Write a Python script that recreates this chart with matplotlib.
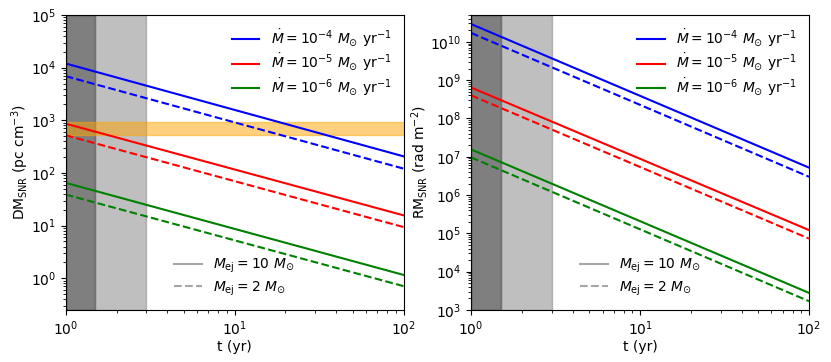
import matplotlib
matplotlib.use('Agg')
import matplotlib.pyplot as plt
from matplotlib.lines import Line2D

# tempo (yr): as curvas sao retas em log-log, basta o inicio e o fim
t = [1, 100]

mdot_labels = [r'$\dot{M} = 10^{-4}\ M_{\odot}\ {\rm yr}^{-1}$',
               r'$\dot{M} = 10^{-5}\ M_{\odot}\ {\rm yr}^{-1}$',
               r'$\dot{M} = 10^{-6}\ M_{\odot}\ {\rm yr}^{-1}$']
cores = ['blue', 'red', 'green']
mej_labels = [r'$M_{\rm ej} = 10\ M_{\odot}$', r'$M_{\rm ej} = 2\ M_{\odot}$']

# DM (pc cm^-3), Mej = 10 (solido) e Mej = 2 (tracejado)
dm_mej10 = [[1.2e4, 207], [865, 15.7], [65, 1.16]]
dm_mej2 = [[6.9e3, 121], [520, 9.4], [39, 0.71]]

# RM (rad m^-2)
rm_mej10 = [[2.9e10, 5.2e6], [6.4e8, 1.22e5], [1.55e7, 2.8e3]]
rm_mej2 = [[1.7e10, 3.0e6], [4.0e8, 7.3e4], [9.6e6, 1.7e3]]

# faixa de DM observada
dm_obs = [520, 930]
# regioes de idade
t_escuro = [1, 1.5]
t_claro = [1.5, 3]


def painel(ax, solido, tracejado, ylabel, ylim, faixa=None):
    ax.axvspan(*t_escuro, color='k', alpha=0.5)
    ax.axvspan(*t_claro, color='gray', alpha=0.5)
    if faixa is not None:
        ax.axhspan(*faixa, color='orange', alpha=0.5)
    linhas = []
    for s, d, c, lab in zip(solido, tracejado, cores, mdot_labels):
        l, = ax.plot(t, s, color=c, lw=1.5, label=lab)
        ax.plot(t, d, color=c, lw=1.5, ls='--')
        linhas.append(l)
    ax.set_xscale('log')
    ax.set_yscale('log')
    ax.set_xlim(1, 100)
    ax.set_ylim(*ylim)
    ax.set_xlabel('t (yr)', labelpad=1)
    ax.set_ylabel(ylabel, labelpad=0)
    leg1 = ax.legend(handles=linhas, loc='upper right', frameon=False,
                     labelspacing=0.2)
    ax.add_artist(leg1)
    h2 = [Line2D([], [], color='gray', alpha=0.7, lw=1.5),
          Line2D([], [], color='gray', alpha=0.7, lw=1.5, ls='--')]
    ax.legend(h2, mej_labels, loc='lower center', frameon=False,
              labelspacing=0.3)


fig, (ax1, ax2) = plt.subplots(1, 2, figsize=(8.31, 3.62), dpi=100)
painel(ax1, dm_mej10, dm_mej2, r'DM$_{\rm SNR}$ (pc cm$^{-3}$)', (0.25, 1e5), dm_obs)
painel(ax2, rm_mej10, rm_mej2, r'RM$_{\rm SNR}$ (rad m$^{-2}$)', (1e3, 5e10))

fig.subplots_adjust(left=0.079, right=0.9735, top=0.9586, bottom=0.1436, wspace=0.2)
fig.savefig('out.png', dpi=100)
